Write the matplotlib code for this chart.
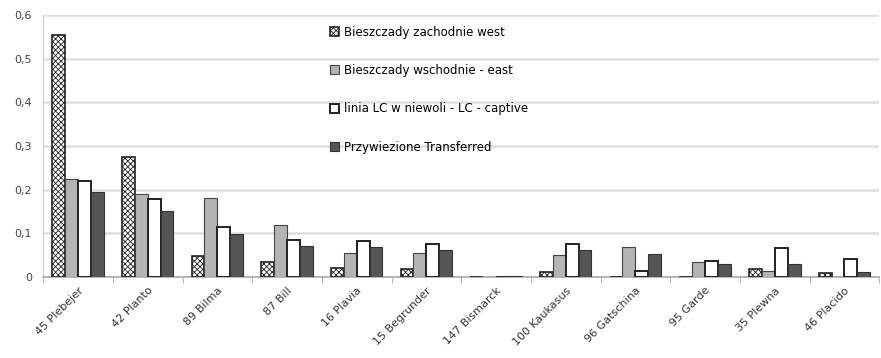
import numpy as np
import matplotlib.pyplot as plt
from matplotlib.ticker import FuncFormatter

# Dane
bulls = ['45 Plebejer', '42 Planto', '89 Bilma', '87 Bill', '16 Plavia', '15 Begrunder',
         '147 Bismarck', '100 Kaukasus', '96 Gatschina', '95 Garde', '35 Plewna', '46 Placido']
west = [0.555, 0.275, 0.048, 0.035, 0.020, 0.019, 0.000, 0.012, 0.000, 0.001, 0.019, 0.010]
east = [0.225, 0.190, 0.182, 0.120, 0.056, 0.056, 0.001, 0.050, 0.070, 0.035, 0.015, 0.000]
captive = [0.220, 0.178, 0.115, 0.086, 0.082, 0.076, 0.001, 0.076, 0.015, 0.037, 0.066, 0.042]
transferred = [0.195, 0.152, 0.098, 0.072, 0.069, 0.063, 0.003, 0.063, 0.054, 0.031, 0.031, 0.011]

labels = ['Bieszczady zachodnie west', 'Bieszczady wschodnie - east',
          'linia LC w niewoli - LC - captive', 'Przywiezione Transferred']

plt.rcParams['hatch.color'] = '#888888'
plt.rcParams['hatch.linewidth'] = 0.6

fig = plt.figure(figsize=(8.81, 3.58), dpi=100)
ax = fig.add_axes([0.049, 0.226, 0.949, 0.732])

x = np.arange(len(bulls))
w = 0.185
ax.bar(x - 1.5 * w, west, w, facecolor='white', edgecolor='#222222', hatch='xxxxxx',
       linewidth=1.2, label=labels[0], zorder=3)
ax.bar(x - 0.5 * w, east, w, facecolor='#b4b4b4', edgecolor='#444444',
       linewidth=0.8, label=labels[1], zorder=3)
ax.bar(x + 0.5 * w, captive, w, facecolor='white', edgecolor='#222222',
       linewidth=1.4, label=labels[2], zorder=3)
ax.bar(x + 1.5 * w, transferred, w, facecolor='#555555', edgecolor='#333333',
       linewidth=0.8, label=labels[3], zorder=3)

ax.set_xlim(-0.5, len(bulls) - 0.5)
ax.set_ylim(0, 0.6)
ax.set_yticks(np.arange(0, 0.61, 0.1))
ax.yaxis.set_major_formatter(FuncFormatter(lambda v, p: '0' if v == 0 else f'{v:.1f}'.replace('.', ',')))
ax.yaxis.grid(True, color='#e0e0e0', linewidth=1.8, zorder=0)
ax.tick_params(axis='y', length=0, labelsize=8, labelcolor='#444444', pad=8)

# kreski osi x pomiedzy kategoriami
ax.set_xticks(x)
ax.set_xticklabels(bulls, rotation=45, ha='right', rotation_mode='anchor', fontsize=8,
                   color='#333333')
ax.set_xticks(np.arange(-0.5, len(bulls)), minor=True)
ax.tick_params(axis='x', which='major', length=0, pad=6)
ax.tick_params(axis='x', which='minor', length=4, color='#aaaaaa')

for s in ['top', 'right']:
    ax.spines[s].set_visible(False)
ax.spines['left'].set_color('#cccccc')
ax.spines['bottom'].set_color('#aaaaaa')
ax.spines['bottom'].set_linewidth(1.2)

ax.legend(loc='upper left', bbox_to_anchor=(0.33, 1.0), frameon=False, fontsize=8.5,
          labelspacing=2.15, handlelength=0.8, handleheight=0.8, handletextpad=0.4)

plt.savefig('out.png', dpi=100)
